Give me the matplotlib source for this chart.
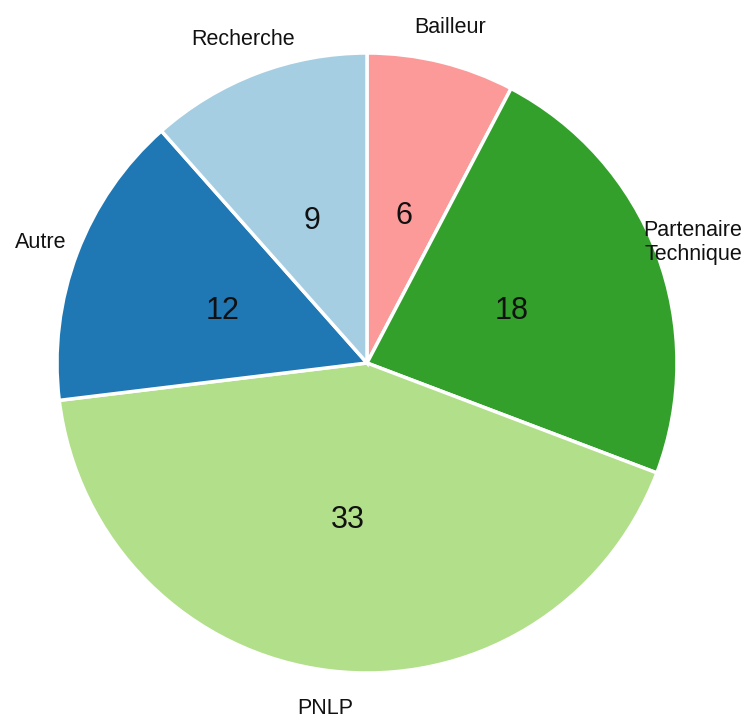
import matplotlib.pyplot as plt

plt.rcParams['font.family'] = ['Liberation Sans', 'DejaVu Sans']

# categories, clockwise from the top
categories = ['Bailleur', 'Partenaire\nTechnique', 'PNLP', 'Autre', 'Recherche']
counts = [6, 18, 33, 12, 9]
colors = ['#fb9a99', '#33a02c', '#b2df8a', '#1f78b4', '#a6cee3']

total = sum(counts)

fig = plt.figure(figsize=(7.51, 7.2), dpi=100)
ax = fig.add_axes([0, 0, 1, 1])

wedges, texts, autotexts = ax.pie(
    counts, labels=categories, colors=colors, startangle=90, counterclock=False,
    labeldistance=1.125, pctdistance=0.5,
    autopct=lambda p: '%d' % round(p * total / 100.0),
    wedgeprops=dict(edgecolor='white', linewidth=2.5),
    textprops=dict(fontsize=15.5, color='#111111'))

for t in texts:
    t.set_horizontalalignment('center')
    t.set_linespacing(1.15)
    x, y = t.get_position()
    if y > -1:
        t.set_position((x, y - 3 / 310))
    else:
        # keep the bottom label inside the picture
        t.set_position((x, y + 1 / 310))
for t in autotexts:
    t.set_fontsize(22)
    t.set_color('#111111')
    x, y = t.get_position()
    t.set_position((x, y - 3 / 310))

# place the pie as in the original picture
ax.set_aspect('auto')
ax.set_xlim(-367 / 310, (751 - 367) / 310)
ax.set_ylim(-357 / 310, 363 / 310)
ax.axis('off')

fig.savefig('out.png', dpi=100)
